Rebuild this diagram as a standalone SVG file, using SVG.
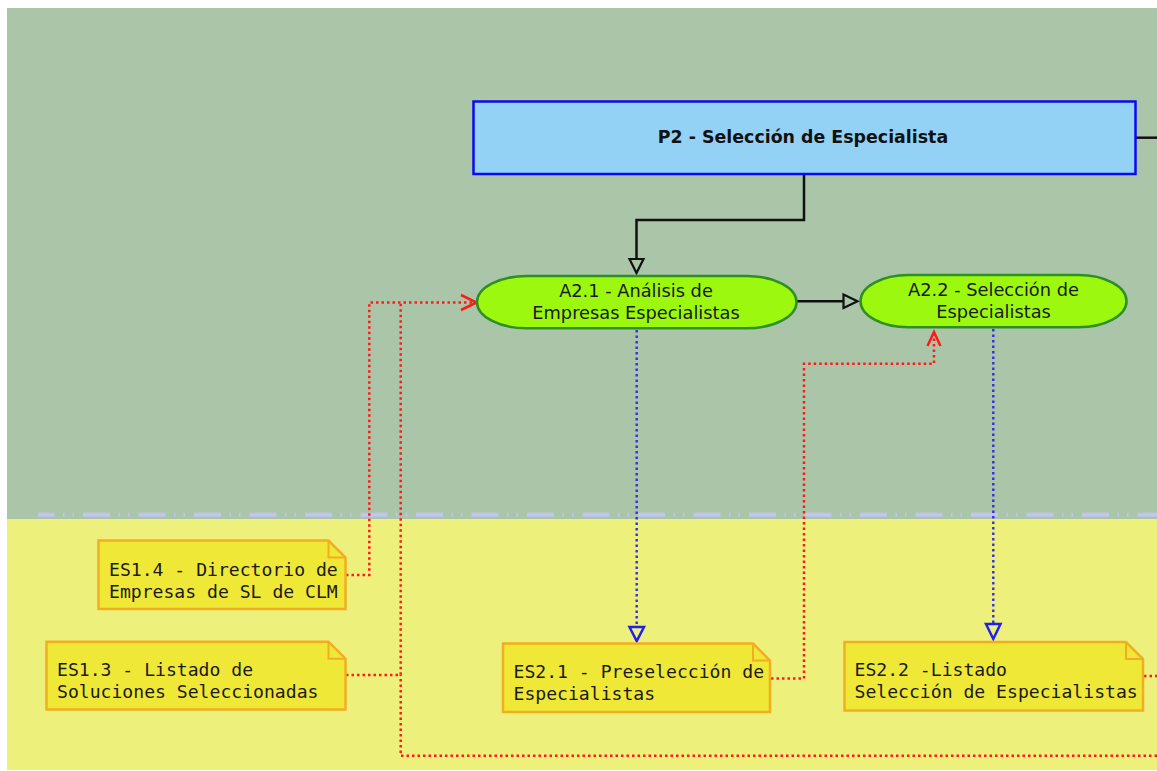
<svg xmlns="http://www.w3.org/2000/svg" width="1157" height="771" viewBox="0 0 1157 771">
<style>
.proc{fill:#94D2F5;stroke:#0A0AF0;stroke-width:2.5}
.act{fill:#9CF80F;stroke:#2E8F22;stroke-width:2.5}
.note{fill:#F0E836;stroke:#F2AE20;stroke-width:2.5}
.fold{fill:none;stroke:#F2AE20;stroke-width:2}
.t{font-family:"DejaVu Sans","Liberation Sans",sans-serif;font-size:17.8px;fill:#1a1a1a;text-anchor:middle}
.tb{font-family:"DejaVu Sans","Liberation Sans",sans-serif;font-size:17.4px;font-weight:bold;fill:#111;text-anchor:middle}
.m{font-family:"DejaVu Sans Mono","Liberation Mono",monospace;font-size:18.1px;fill:#1a1a1a}
.blk{fill:none;stroke:#111;stroke-width:2.5}
.red{fill:none;stroke:#FF1A1A;stroke-width:2.5;stroke-dasharray:2.5 3}
.blue{fill:none;stroke:#3030E0;stroke-width:2.4;stroke-dasharray:2.5 3}
.redhead{fill:none;stroke:#FF1A1A;stroke-width:2.5}
.bluehead{fill:none;stroke:#2020F0;stroke-width:2.5}
.blkhead{fill:none;stroke:#111;stroke-width:2.2}
</style>
<rect x="0" y="0" width="1157" height="771" fill="#FFFFFF"/>
<g id="lanes">
<rect x="7" y="8" width="1150" height="511" fill="#ABC5A8"/>
<rect x="7" y="519" width="1150" height="251" fill="#EEF07C"/>
<line x1="38" y1="514.7" x2="1157" y2="514.7" stroke="#C4C4F2" stroke-width="4" stroke-dasharray="27 8.5 1.5 8 1.5 9" stroke-dashoffset="10.5"/>
</g>
<g id="connectors">
<line x1="1136" y1="137.7" x2="1157" y2="137.7" class="blk"/>
<polyline points="804,174 804,220 636.5,220 636.5,259" class="blk"/>
<polygon points="629.5,259 643.5,259 636.5,273" class="blkhead"/>
<line x1="796" y1="301.3" x2="843.5" y2="301.3" class="blk"/>
<polygon points="843.5,294.5 843.5,308 857.5,301.3" class="blkhead"/>
<line x1="636.7" y1="330" x2="636.7" y2="627" class="blue"/>
<polygon points="629.5,627 644,627 636.7,641" class="bluehead"/>
<line x1="993.3" y1="329" x2="993.3" y2="624" class="blue"/>
<polygon points="986,624 1000.5,624 993.3,639" class="bluehead"/>
<polyline points="346,575 369.3,575 369.3,302.5 474,302.5" class="red"/>
<polyline points="346,675 400.7,675 400.7,302.5" class="red"/>
<polyline points="1157,755.7 400.7,755.7 400.7,675" class="red"/>
<polyline points="461,295 476.5,302.5 461,310" class="redhead"/>
<polyline points="771,678.5 804,678.5 804,363.7 934,363.7 934,334" class="red"/>
<polyline points="927.5,346 934,332 940.5,346" class="redhead"/>
<line x1="1144" y1="676" x2="1157" y2="676" class="red"/>
</g>
<g id="P2">
<rect x="473.5" y="101.5" width="662" height="72.5" class="proc"/>
<text x="803" y="143" class="tb">P2 - Selección de Especialista</text>
</g>
<g id="A2.1">
<rect x="477" y="276" width="319.5" height="52.3" rx="50" ry="26" class="act"/>
<text x="636" y="297.3" class="t">A2.1 - Análisis de</text>
<text x="636" y="319.3" class="t">Empresas Especialistas</text>
</g>
<g id="A2.2">
<rect x="860.5" y="275" width="266" height="52.3" rx="48" ry="26" class="act"/>
<text x="993.5" y="295.7" class="t">A2.2 - Selección de</text>
<text x="993.5" y="317.7" class="t">Especialistas</text>
</g>
<g id="ES1.4">
<path d="M98.5,540.5 H328.5 L345.5,557.5 V609 H98.5 Z" class="note"/>
<path d="M328.5,540.5 V557.5 H345.5" class="fold"/>
<text x="109" y="575.7" class="m">ES1.4 - Directorio de</text>
<text x="109" y="597.7" class="m">Empresas de SL de CLM</text>
</g>
<g id="ES1.3">
<path d="M46.5,641.7 H328.5 L345.5,658.7 V709.5 H46.5 Z" class="note"/>
<path d="M328.5,641.7 V658.7 H345.5" class="fold"/>
<text x="57" y="675.7" class="m">ES1.3 - Listado de</text>
<text x="57" y="697.5" class="m">Soluciones Seleccionadas</text>
</g>
<g id="ES2.1">
<path d="M503,643.5 H753 L770,660.5 V712 H503 Z" class="note"/>
<path d="M753,643.5 V660.5 H770" class="fold"/>
<text x="513.5" y="678.3" class="m">ES2.1 - Preselección de</text>
<text x="513.5" y="700" class="m">Especialistas</text>
</g>
<g id="ES2.2">
<path d="M844.5,642 H1126 L1143,659 V710.5 H844.5 Z" class="note"/>
<path d="M1126,642 V659 H1143" class="fold"/>
<text x="854.5" y="676" class="m">ES2.2 -Listado</text>
<text x="854.5" y="698.3" class="m">Selección de Especialistas</text>
</g>
</svg>
